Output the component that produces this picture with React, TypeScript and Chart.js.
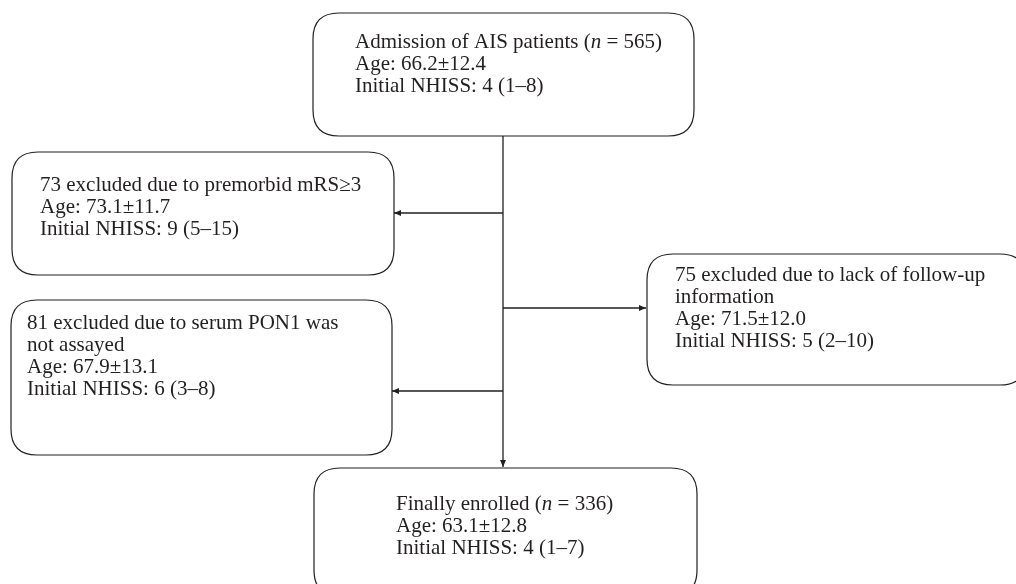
import React, { useEffect, useRef } from "react";
import { Chart, registerables } from "chart.js";
Chart.register(...registerables);

const W = 1016;
const H = 584;

// Box contents (the flowchart's "data"); *text* marks italic runs
const boxTexts: string[][] = [
  ["Admission of AIS patients (*n* = 565)", "Age: 66.2±12.4", "Initial NHISS: 4 (1–8)"],
  ["73 excluded due to premorbid mRS≥3", "Age: 73.1±11.7", "Initial NHISS: 9 (5–15)"],
  ["81 excluded due to serum PON1 was", "not assayed", "Age: 67.9±13.1", "Initial NHISS: 6 (3–8)"],
  ["75 excluded due to lack of follow-up", "information", "Age: 71.5±12.0", "Initial NHISS: 5 (2–10)"],
  ["Finally enrolled (*n* = 336)", "Age: 63.1±12.8", "Initial NHISS: 4 (1–7)"],
];

// Layout (in chart value units = page pixels)
const boxLeft = [313, 12, 11, 647, 314];
const boxTop = [13, 152, 300, 254, 468];
const boxRight = [694, 394, 392, 1026, 697];
const boxBottom = [136, 275, 455, 385, 596];
const textLeft = [355, 40, 27, 675, 396];
const textFirstY = [42, 185, 323, 275, 504];
const lineGap = 22;

// Connectors: start and end points, arrow at end
const connX1 = [503, 503, 503, 503];
const connY1 = [136, 213, 391, 308];
const connX2 = [503, 394, 392, 646];
const connY2 = [467, 213, 391, 308];

const FONT = '"Liberation Serif", "Times New Roman", serif';
const FS = 21;

function roundRect(ctx: CanvasRenderingContext2D, x: number, y: number, w: number, h: number, r: number) {
  ctx.beginPath();
  ctx.moveTo(x + r, y);
  ctx.lineTo(x + w - r, y);
  ctx.quadraticCurveTo(x + w, y, x + w, y + r);
  ctx.lineTo(x + w, y + h - r);
  ctx.quadraticCurveTo(x + w, y + h, x + w - r, y + h);
  ctx.lineTo(x + r, y + h);
  ctx.quadraticCurveTo(x, y + h, x, y + h - r);
  ctx.lineTo(x, y + r);
  ctx.quadraticCurveTo(x, y, x + r, y);
  ctx.closePath();
}

const flowPlugin = {
  id: "flow",
  afterDatasetsDraw(chart: any) {
    const ctx: CanvasRenderingContext2D = chart.ctx;
    const xs = chart.scales.x;
    const ys = chart.scales.y;
    ctx.save();
    for (let i = 0; i < boxTexts.length; i++) {
      const x1 = xs.getPixelForValue(boxLeft[i]);
      const x2 = xs.getPixelForValue(boxRight[i]);
      const y1 = ys.getPixelForValue(boxTop[i]);
      const y2 = ys.getPixelForValue(boxBottom[i]);
      roundRect(ctx, x1, y1, x2 - x1, y2 - y1, 26);
      ctx.fillStyle = "#ffffff";
      ctx.fill();
      ctx.lineWidth = 1.2;
      ctx.strokeStyle = "#231f20";
      ctx.stroke();
      ctx.fillStyle = "#231f20";
      ctx.textBaseline = "middle";
      ctx.textAlign = "left";
      const tx = xs.getPixelForValue(textLeft[i]);
      boxTexts[i].forEach((line, li) => {
        const ty = ys.getPixelForValue(textFirstY[i] + li * lineGap);
        const parts = line.split("*");
        let cx = tx;
        parts.forEach((p, pi) => {
          ctx.font = (pi % 2 === 1 ? "italic " : "") + FS + "px " + FONT;
          ctx.fillText(p, cx, ty);
          cx += ctx.measureText(p).width;
        });
      });
    }
    for (let i = 0; i < connX1.length; i++) {
      const ax = xs.getPixelForValue(connX2[i]);
      const ay = ys.getPixelForValue(connY2[i]);
      const bx = xs.getPixelForValue(connX1[i]);
      const by = ys.getPixelForValue(connY1[i]);
      const ang = Math.atan2(ay - by, ax - bx);
      const len = 7;
      const half = 3;
      ctx.beginPath();
      ctx.moveTo(ax, ay);
      ctx.lineTo(ax - len * Math.cos(ang) + half * Math.sin(ang), ay - len * Math.sin(ang) - half * Math.cos(ang));
      ctx.lineTo(ax - len * Math.cos(ang) - half * Math.sin(ang), ay - len * Math.sin(ang) + half * Math.cos(ang));
      ctx.closePath();
      ctx.fillStyle = "#231f20";
      ctx.fill();
    }
    ctx.restore();
  },
};

export default function App() {
  const ref = useRef<HTMLCanvasElement | null>(null);
  useEffect(() => {
    document.body.style.margin = "0";
    const canvas = ref.current;
    if (!canvas) return;
    const datasets = connX1.map((_, i) => ({
      data: [
        { x: connX1[i], y: connY1[i] },
        { x: connX2[i], y: connY2[i] },
      ],
      showLine: true,
      borderColor: "#231f20",
      borderWidth: 1.3,
      pointRadius: 0,
      fill: false,
    }));
    const chart = new Chart(canvas, {
      type: "scatter",
      data: { datasets },
      options: {
        animation: false,
        responsive: false,
        maintainAspectRatio: false,
        layout: { padding: 0 },
        plugins: { legend: { display: false }, tooltip: { enabled: false } },
        scales: {
          x: { type: "linear", min: 0, max: W, display: false },
          y: { type: "linear", min: 0, max: H, reverse: true, display: false },
        },
      },
      plugins: [flowPlugin],
    });
    return () => chart.destroy();
  }, []);
  return (
    <div style={{ position: "absolute", left: 0, top: 0, width: W, height: H, background: "#fff" }}>
      <canvas ref={ref} width={W} height={H} style={{ width: W, height: H, display: "block" }} />
    </div>
  );
}
